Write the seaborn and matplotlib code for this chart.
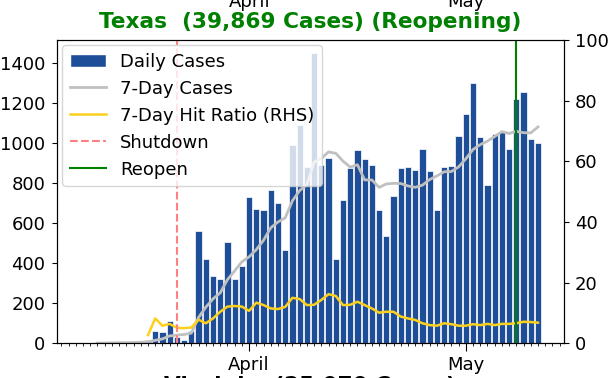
import numpy as np
import pandas as pd
import matplotlib
matplotlib.use("Agg")
import matplotlib.pyplot as plt
import matplotlib.dates as mdates
from matplotlib.patches import Patch
from matplotlib.lines import Line2D
import seaborn as sns

# --- dati (Texas, 9 marzo - 11 maggio) ---
dates = pd.date_range("2020-03-09", "2020-05-11", freq="D")

daily_cases = [
    0, 0, 4, 0, 8, 5, 3, 5, 9, 16, 61, 55, 113, 30, 18, 60,          # 9-24 mar
    562, 419, 336, 322, 505, 322, 386,                               # 25-31 mar
    731, 672, 665, 765, 703, 465, 989, 1089, 881, 1450,              # 1-10 apr
    890, 926, 419, 718, 876, 964, 919, 893, 665, 535,                # 11-20 apr
    738, 875, 880, 866, 971, 860, 665, 880, 886, 1036,               # 21-30 apr
    1147, 1302, 1028, 790, 1043, 1056, 973, 1222, 1255, 1018, 1001,  # 1-11 mag
]

seven_day_cases = [
    np.nan, np.nan, 1, 1, 2, 3, 3, 4, 5, 7, 15, 22, 37, 41, 44, 51,
    129, 180, 222, 252, 318, 362, 407,
    432, 468, 515, 577, 606, 627, 712, 763, 793, 905,
    924, 956, 949, 910, 880, 892, 816, 816, 779, 796,
    799, 798, 786, 779, 790, 818, 836, 857, 858, 881,
    921, 968, 992, 1010, 1033, 1057, 1048, 1059, 1052, 1051, 1081,
]

hit_ratio = [
    np.nan, np.nan, np.nan, np.nan, np.nan, np.nan, np.nan, np.nan, np.nan,
    2.7, 8.2, 5.8, 6.4, 5.1, 5.0, 5.2,
    7.8, 6.6, 8.2, 10.4, 12.1, 12.3, 12.1,
    10.7, 13.4, 12.6, 11.5, 11.3, 12.0, 15.0, 14.6, 12.6, 12.7,
    14.3, 16.2, 15.6, 12.6, 12.7, 13.7, 12.6, 11.5, 10.1, 10.4,
    10.4, 8.8, 8.2, 7.7, 6.6, 6.0, 5.8, 6.6, 6.3, 5.8,
    5.8, 6.3, 6.0, 6.4, 6.0, 6.4, 6.4, 6.6, 7.1, 7.0, 6.8,
]

shutdown_date = pd.Timestamp("2020-03-22")
reopen_date = pd.Timestamp("2020-05-08")

title = "Texas  (39,869 Cases) (Reopening)"
next_title = "Virginia  (25,070 Cases)"

BAR_BLUE = "#1f4e99"
LINE_GRAY = "#c0c0c0"
LINE_GOLD = "#fcd01c"
SHUT_RED = "#ff8080"

plt.rcParams["font.size"] = 13

fig = plt.figure(figsize=(6.1, 3.78), dpi=100)
ax = fig.add_axes([57 / 610, (378 - 343.3) / 378, (564 - 57) / 610, (343.3 - 40) / 378])

ax.bar(dates, daily_cases, width=0.85, color=BAR_BLUE, edgecolor="white", linewidth=0.5)
sns.lineplot(x=dates, y=seven_day_cases, ax=ax, color=LINE_GRAY, lw=2)

ax2 = ax.twinx()
sns.lineplot(x=dates, y=hit_ratio, ax=ax2, color=LINE_GOLD, lw=1.8)
ax2.axvline(shutdown_date, color=SHUT_RED, ls="--", lw=1.5)
ax2.axvline(reopen_date, color="green", lw=1.5)

ax.set_xlim(dates[0] - pd.Timedelta(days=3.6), dates[-1] + pd.Timedelta(days=3.6))
ax.set_ylim(0, 1515)
ax2.set_ylim(0, 100)
ax.set_xlabel("")
ax.set_ylabel("")
ax2.set_ylabel("")

ax.xaxis.set_major_locator(mdates.MonthLocator())
ax.xaxis.set_major_formatter(mdates.DateFormatter("%B"))
ax.xaxis.set_minor_locator(mdates.DayLocator())
ax.tick_params(axis="x", which="major", length=6)
ax.tick_params(axis="y", pad=5)
ax2.tick_params(axis="y", pad=4.5)

ax.set_title(title, color="green", fontweight="bold", fontsize=15.6, pad=8.5)

handles = [
    Patch(facecolor=BAR_BLUE, edgecolor="white", label="Daily Cases"),
    Line2D([], [], color=LINE_GRAY, lw=2, label="7-Day Cases"),
    Line2D([], [], color=LINE_GOLD, lw=1.8, label="7-Day Hit Ratio (RHS)"),
    Line2D([], [], color=SHUT_RED, lw=1.5, ls="--", label="Shutdown"),
    Line2D([], [], color="green", lw=1.5, label="Reopen"),
]
ax2.legend(handles=handles, loc="upper left", fontsize=13, labelspacing=0.5,
           borderaxespad=0.3)

# frammenti dei pannelli vicini (tagliati dal ritaglio)
fig.text(250 / 610, 1 - 7 / 378, "April", ha="center", va="baseline", fontsize=13)
fig.text(466 / 610, 1 - 7 / 378, "May", ha="center", va="baseline", fontsize=13)
fig.text(310 / 610, -14 / 378, next_title, ha="center", va="baseline",
         fontsize=15.6, fontweight="bold")

fig.savefig("out.png", dpi=100)
plt.close(fig)
